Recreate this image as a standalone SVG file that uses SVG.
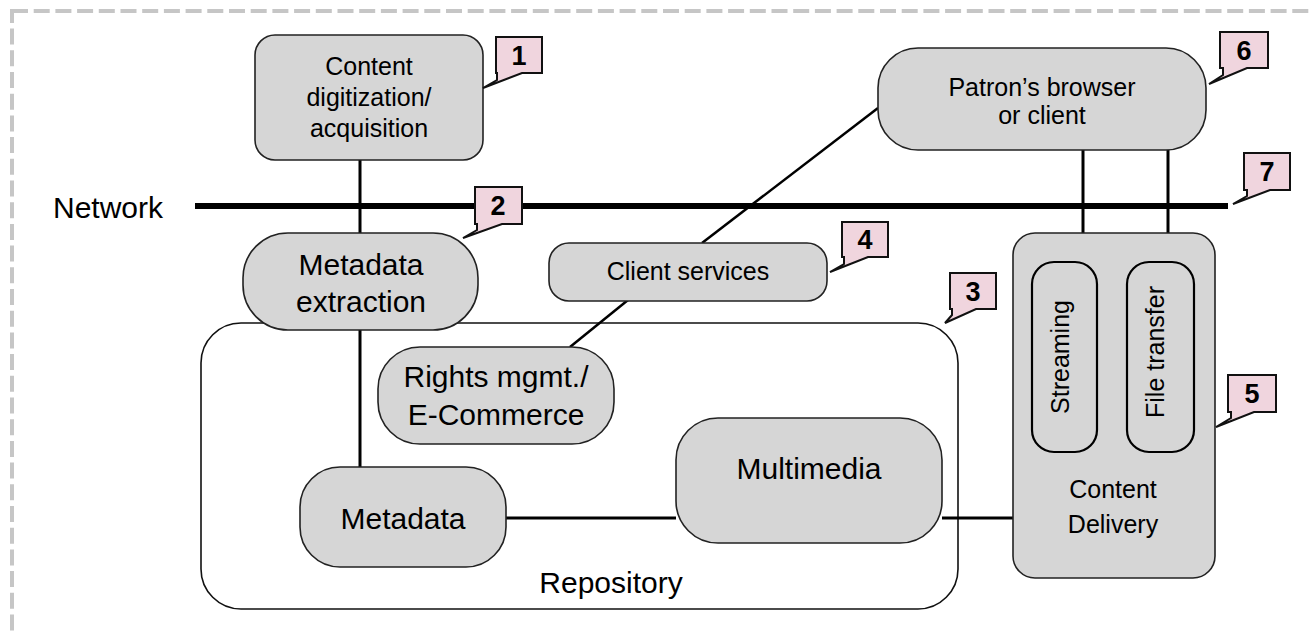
<svg xmlns="http://www.w3.org/2000/svg" width="1309" height="634" viewBox="0 0 1309 634">
<defs>
<style>
text{font-family:"Liberation Sans",Arial,sans-serif;fill:#000}
.box{fill:#d6d6d6;stroke:#222;stroke-width:1.6}
.inner{fill:#d6d6d6;stroke:#000;stroke-width:2.2}
.repo{fill:#fff;stroke:#111;stroke-width:1.6}
.ln{stroke:#000;stroke-width:3;fill:none}
.thin{stroke:#000;stroke-width:2.5;fill:none}
.call{fill:#f0d5de;stroke:#111;stroke-width:2}
.num{font-weight:bold;font-size:27px;text-anchor:middle}
.t26{font-size:25px;text-anchor:middle}
.t30{font-size:30px;text-anchor:middle}
</style>
</defs>
<rect x="12" y="11" width="1400" height="700" fill="none" stroke="#c6c6c6" stroke-width="4" stroke-dasharray="16 5.7"/>

<g id="repository">
<rect class="repo" x="201" y="323" width="757" height="286" rx="40"/>
<text class="t30" x="611" y="593">Repository</text>
</g>

<g id="connectors">
<line class="ln" x1="360" y1="160" x2="360" y2="467"/>
<line x1="195" y1="206" x2="1228" y2="206" stroke="#000" stroke-width="6"/>
<line class="thin" x1="702" y1="243" x2="878" y2="108"/>
<line class="thin" x1="628" y1="300" x2="570" y2="347"/>
<line class="ln" x1="1083" y1="150" x2="1083" y2="233"/>
<line class="ln" x1="1168" y1="150" x2="1168" y2="233"/>
<line class="ln" x1="506" y1="518" x2="676" y2="518"/>
<line class="ln" x1="942" y1="518" x2="1013" y2="518"/>
</g>

<g id="network-label">
<text x="53" y="218" font-size="30">Network</text>
</g>

<g id="content-digitization">
<rect class="box" x="255" y="35" width="228" height="125" rx="20"/>
<text class="t26" x="369" y="75">Content</text>
<text class="t26" x="369" y="106">digitization/</text>
<text class="t26" x="369" y="137">acquisition</text>
</g>

<g id="patron">
<rect class="box" x="878" y="48" width="328" height="102" rx="40"/>
<text class="t26" x="1042" y="96" font-size="26">Patron’s browser</text>
<text class="t26" x="1042" y="124" font-size="26">or client</text>
</g>

<g id="metadata-extraction">
<rect class="box" x="243" y="233" width="235" height="97" rx="45"/>
<text class="t30" x="361" y="275">Metadata</text>
<text class="t30" x="361" y="312">extraction</text>
</g>

<g id="client-services">
<rect class="box" x="549" y="243" width="278" height="58" rx="20"/>
<text class="t26" x="688" y="280">Client services</text>
</g>

<g id="rights">
<rect class="box" x="378" y="347" width="236" height="97" rx="42"/>
<text class="t30" x="496" y="387">Rights mgmt./</text>
<text class="t30" x="496" y="425">E-Commerce</text>
</g>

<g id="metadata">
<rect class="box" x="300" y="467" width="206" height="100" rx="40"/>
<text class="t30" x="403" y="529">Metadata</text>
</g>

<g id="multimedia">
<rect class="box" x="676" y="418" width="266" height="125" rx="42"/>
<text class="t30" x="809" y="479">Multimedia</text>
</g>

<g id="content-delivery">
<rect class="box" x="1013" y="233" width="202" height="345" rx="22"/>
<rect class="inner" x="1032" y="262" width="65" height="190" rx="22"/>
<rect class="inner" x="1127" y="262" width="67" height="190" rx="22"/>
<text class="t26" transform="translate(1069 357) rotate(-90)" text-anchor="middle">Streaming</text>
<text class="t26" transform="translate(1164 352) rotate(-90)" text-anchor="middle">File transfer</text>
<text class="t26" x="1113" y="498">Content</text>
<text class="t26" x="1113" y="533">Delivery</text>
</g>

<g id="callout-1">
<path class="call" d="M496 37H542V73H522L483 88L497 80L497 73H496Z"/>
<text class="num" x="519" y="65">1</text>
</g>
<g id="callout-2">
<path class="call" d="M475 187H522V224H502L463 238L477 230L477 224H475Z"/>
<text class="num" x="498" y="215">2</text>
</g>
<g id="callout-3">
<path class="call" d="M950 273H996V309H976L945 323L952 315L952 309H950Z"/>
<text class="num" x="973" y="301">3</text>
</g>
<g id="callout-4">
<path class="call" d="M842 222H888V257H868L830 272L844 264L844 257H842Z"/>
<text class="num" x="865" y="249">4</text>
</g>
<g id="callout-5">
<path class="call" d="M1228 375H1276V412H1254L1216 427L1231 418L1231 412H1228Z"/>
<text class="num" x="1252" y="403">5</text>
</g>
<g id="callout-6">
<path class="call" d="M1220 32H1268V68H1247L1209 84L1223 75L1223 68H1220Z"/>
<text class="num" x="1244" y="60">6</text>
</g>
<g id="callout-7">
<path class="call" d="M1244 153H1290V190H1270L1233 204L1247 196L1247 190H1244Z"/>
<text class="num" x="1267" y="181">7</text>
</g>
</svg>
